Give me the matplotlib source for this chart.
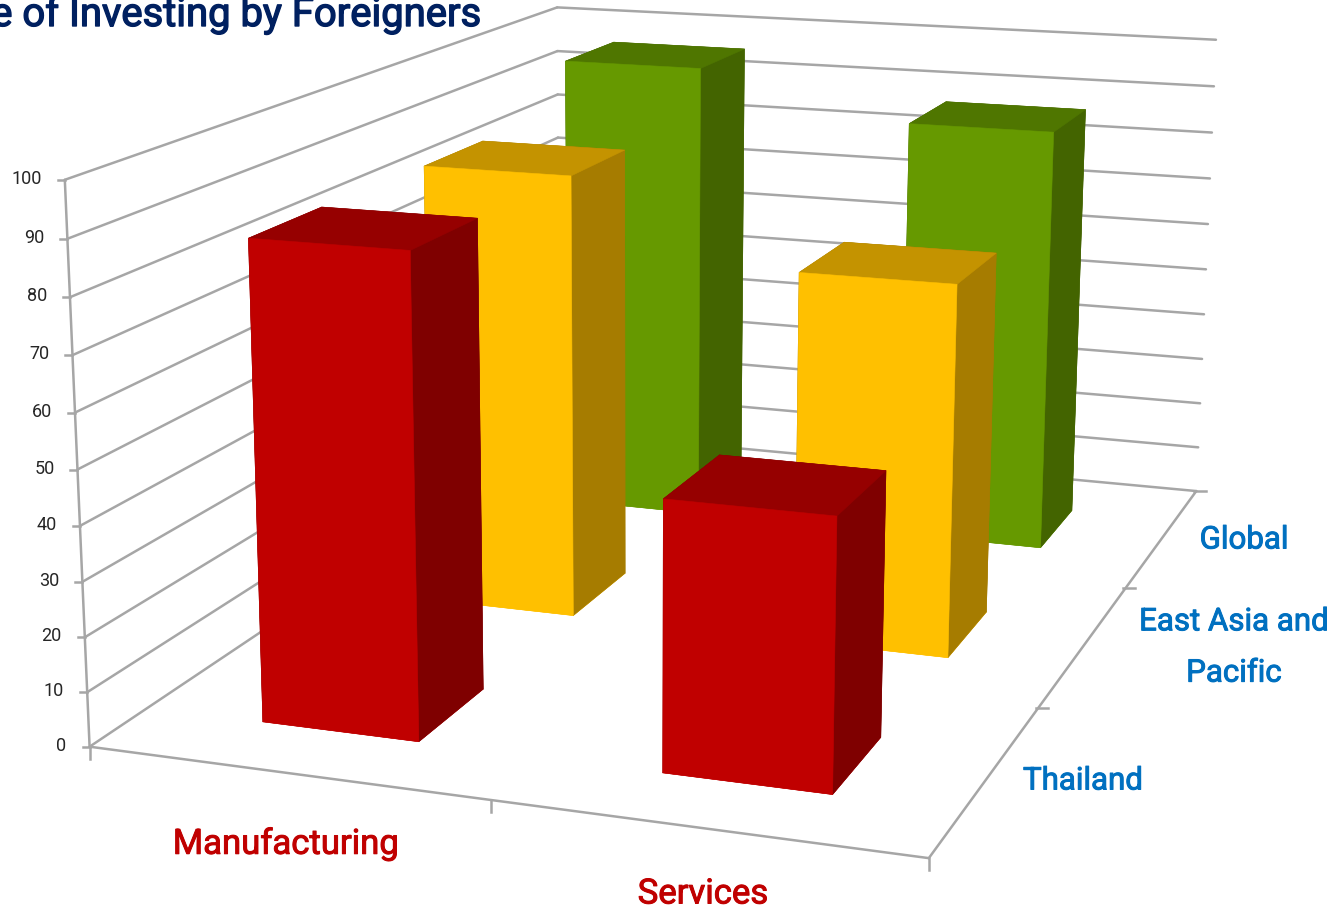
import numpy as np
import matplotlib
matplotlib.use("Agg")
import matplotlib.pyplot as plt
import matplotlib.patheffects as pe
from mpl_toolkits.mplot3d import Axes3D  # noqa: F401

# ---- data ----
sectors = ["Manufacturing", "Services"]
regions = ["Thailand", "East Asia and\nPacific", "Global"]
manufacturing = [87.5, 87.0, 96.5]
services = [48.5, 71.7, 87.5]
value_ticks = [0, 10, 20, 30, 40, 50, 60, 70, 80, 90, 100]
title_visible = "e of Investing by Foreigners"

# ---- style ----
W, H = 1334, 908
GRID = "#A6A6A6"
FACE = {"Thailand": ("#C00000", "#7F0000", "#960000"),
        "East Asia and\nPacific": ("#FFC000", "#A67C00", "#C49300"),
        "Global": ("#669900", "#436400", "#4F7600")}
BAR_W, BAR_D, OFF_X, OFF_Y = 0.40, 0.39, 0.302, 0.287
FONT = "Roboto"

# camera of the reference's 3-D chart: (category, region, value) -> pixel
P = np.array([[3.80434069e+02, 2.22756316e+02, -2.75750678e-01, 8.95924649e+01],
              [1.95214326e+01, -5.41078000e+01, -5.74683403e+00, 7.46701618e+02],
              [-4.21785284e-02, 1.17963978e-01, -4.32067420e-04, 1.0]])


def to_px(x, y, z):
    q = P @ np.array([x, y, z, 1.0])
    return q[0] / q[2], q[1] / q[2]


fig = plt.figure(figsize=(W / 100, H / 100), dpi=100, facecolor="white")
ax = fig.add_axes([0, 0, 1, 1], projection="3d", computed_zorder=False)
ax.apply_aspect = lambda position=None: None
ax.set_axis_off()
ax.patch.set_visible(False)
ax.viewLim.intervalx = (-1, 1)
ax.viewLim.intervaly = (-1, 1)
# normalised device coordinates; depth is -1/w so farther is larger and <= 0
M = np.vstack([2 / W * P[0] - P[2],
               P[2] - 2 / H * P[1],
               np.array([0, 0, 0, -1.0]),
               P[2]])
ax.get_proj = lambda: M

nx, ny = len(sectors), len(regions)
zmax = value_ticks[-1]
lw = 1.8


def line(xs, ys, zs):
    ax.plot(xs, ys, zs, color=GRID, lw=lw, zorder=1, solid_capstyle="round")


for v in value_ticks:
    line([0, 0], [0, ny], [v, v])
    line([0, nx], [ny, ny], [v, v])
line([0, 0], [0, 0], [0, zmax])
line([0, nx], [0, 0], [0, 0])
line([nx, nx], [0, ny], [0, 0])

# bars, back to front
zo = 10
for j in reversed(range(ny)):
    for i, vals in enumerate([manufacturing, services]):
        front, side, top = FACE[regions[j]]
        # face order in bar3d: bottom, top, front, back, left, right
        cols = [front, top, front, side, side, side]
        ax.bar3d([i + OFF_X], [j + OFF_Y], [0], [BAR_W], [BAR_D], [vals[j]],
                 color=cols, shade=False, edgecolor=cols, linewidth=0.4, zorder=zo)
        zo += 1

# overlay in pixels for stubs and labels
ov = fig.add_axes([0, 0, 1, 1], facecolor="none")
ov.set_xlim(0, W)
ov.set_ylim(H, 0)
ov.axis("off")

for v in value_ticks:
    px, py = to_px(0, 0, v)
    ov.plot([px - 7, px], [py, py], color=GRID, lw=lw)
    ov.text(px - 23, py - 1, str(v), ha="right", va="center", fontsize=13,
            color="#262626", family=FONT)
for i in range(nx + 1):
    px, py = to_px(i, 0, 0)
    ov.plot([px, px], [py, py + 12], color=GRID, lw=lw)
for j in range(1, ny + 1):
    px, py = to_px(nx, j, 0)
    ov.plot([px - 2, px + 10], [py, py], color=GRID, lw=lw)


def heavy(colour, width):
    return [pe.withStroke(linewidth=width, foreground=colour)]


sector_pos = [(286, 844), (703, 894)]
region_pos = [(1083, 781), (1234, 647.5), (1244, 540)]
for s, (px, py) in zip(sectors, sector_pos):
    ov.text(px, py, s, ha="center", va="center", fontsize=25, color="#C00000", family=FONT,
            path_effects=heavy("#C00000", 0.7))
for r, (px, py) in zip(regions, region_pos):
    ov.text(px, py, r, ha="center", va="center", fontsize=22.5, color="#0070C0", family=FONT,
            linespacing=1.97, path_effects=heavy("#0070C0", 0.7))
ov.text(481, 26, title_visible, ha="right", va="baseline", fontsize=28.8,
        color="#002060", family=FONT, path_effects=heavy("#002060", 1.0))

fig.savefig("out.png", dpi=100)
